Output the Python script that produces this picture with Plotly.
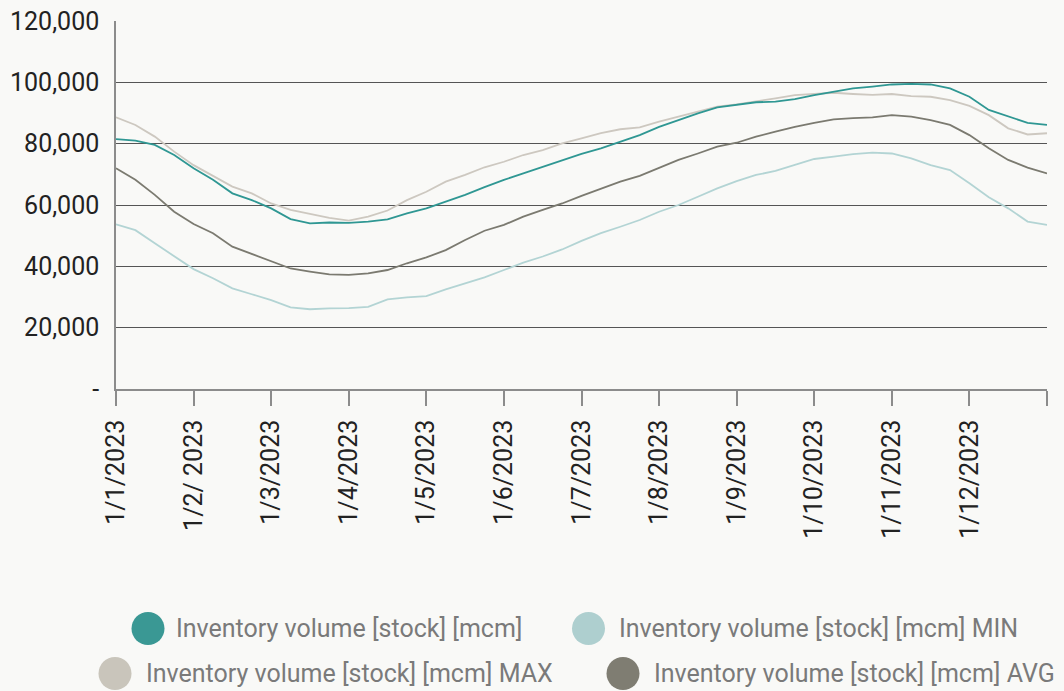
import plotly.graph_objects as go

# Position along the year, in months from 1 January (quarter-month steps)
month_pos = [0, 0.25, 0.5, 0.75, 1, 1.25, 1.5, 1.75, 2, 2.25, 2.5, 2.75, 3,
             3.25, 3.5, 3.75, 4, 4.25, 4.5, 4.75, 5, 5.25, 5.5, 5.75, 6,
             6.25, 6.5, 6.75, 7, 7.25, 7.5, 7.75, 8, 8.25, 8.5, 8.75, 9,
             9.25, 9.5, 9.75, 10, 10.25, 10.5, 10.75, 11, 11.25, 11.5, 11.75, 12]

# Inventory volume (stock), mcm
stock = [81500, 81000, 79600, 76300, 72000, 68200, 63800, 61600, 58900, 55400, 54000, 54300, 54200,
         54600, 55300, 57300, 58900, 61100, 63300, 65800, 68200, 70300, 72500, 74500, 76700,
         78500, 80700, 82800, 85500, 87700, 89900, 91800, 92600, 93500, 93700, 94500, 95800,
         97000, 98000, 98600, 99300, 99500, 99300, 98000, 95300, 91000, 88800, 86800, 86100]

stock_min = [53700, 51800, 47500, 43200, 39100, 36100, 32800, 30900, 29000, 26600, 26000, 26300, 26400,
             26800, 29200, 29900, 30300, 32500, 34500, 36400, 38800, 41200, 43200, 45500, 48300,
             50800, 52900, 55100, 57800, 60000, 62700, 65400, 67800, 69800, 71100, 73000, 75000,
             75800, 76600, 77100, 76800, 75200, 73000, 71400, 67100, 62500, 58900, 54600, 53500]

stock_max = [88600, 86100, 82300, 77400, 73000, 69500, 66000, 63800, 60500, 58400, 57100, 55800, 54900,
             56200, 58200, 61600, 64300, 67600, 69800, 72300, 74100, 76300, 77900, 80100, 81700,
             83400, 84700, 85300, 87200, 88800, 90400, 92100, 92800, 93700, 94800, 95800, 96100,
             96600, 96200, 95900, 96200, 95500, 95300, 94200, 92300, 89300, 85000, 83000, 83400]

stock_avg = [72000, 68200, 63300, 57800, 53800, 50800, 46400, 44000, 41800, 39300, 38300, 37400, 37200,
             37700, 38800, 41000, 42900, 45300, 48600, 51600, 53500, 56200, 58400, 60500, 63000,
             65400, 67600, 69500, 72000, 74700, 76800, 79000, 80300, 82300, 83900, 85500, 86800,
             87900, 88300, 88600, 89300, 88800, 87700, 86100, 82800, 78500, 74700, 72200, 70300]

month_ticks = [0, 1, 2, 3, 4, 5, 6, 7, 8, 9, 10, 11, 12]
month_labels = ["1/1/2023", "1/2/ 2023", "1/3/2023", "1/4/2023", "1/5/2023", "1/6/2023",
                "1/7/2023", "1/8/2023", "1/9/2023", "1/10/2023", "1/11/2023", "1/12/2023", ""]

y_ticks = [0, 20000, 40000, 60000, 80000, 100000, 120000]
y_labels = ["-", "20,000", "40,000", "60,000", "80,000", "100,000", "120,000"]

series_names = ["Inventory volume [stock] [mcm]",
                "Inventory volume [stock] [mcm] MIN",
                "Inventory volume [stock] [mcm] MAX",
                "Inventory volume [stock] [mcm] AVG"]

W, H = 1064, 691
L, R, T, B = 116, 17, 21, 302
BG = "#f9f9f7"
FONT = "Roboto"

line_colors = {"stock": "#2f9793", "min": "#b3d4d4", "max": "#cdc8c0", "avg": "#7b7a70"}
dot_colors = {"stock": "#3a9894", "min": "#aecfcf", "max": "#c9c5bb", "avg": "#7f7d72"}

fig = go.Figure()
for key, vals in [("min", stock_min), ("max", stock_max), ("avg", stock_avg), ("stock", stock)]:
    fig.add_trace(go.Scatter(x=month_pos, y=vals, mode="lines",
                             line=dict(color=line_colors[key], width=1.8),
                             showlegend=False, hoverinfo="skip"))

# Legend drawn as large dots with labels below the plot
plot_w = W - L - R
plot_h = H - T - B


def px_to_paper(px, py):
    return (px - L) / plot_w, (H - B - py) / plot_h


legend_items = [
    ("stock", series_names[0], 148, 628.5, 174),
    ("min", series_names[1], 588.5, 628.5, 617),
    ("max", series_names[2], 115, 673.5, 144),
    ("avg", series_names[3], 623, 673.5, 652),
]
shapes = []
annotations = []
for key, name, cx, cy, tx in legend_items:
    xp, yp = px_to_paper(cx, cy)
    shapes.append(dict(type="circle", xref="paper", yref="paper",
                       xsizemode="pixel", ysizemode="pixel",
                       xanchor=xp, yanchor=yp, x0=-16.5, x1=16.5, y0=-16.5, y1=16.5,
                       fillcolor=dot_colors[key], line=dict(width=0)))
    txp, _ = px_to_paper(tx, cy)
    annotations.append(dict(text=name, xref="paper", yref="paper", x=txp, y=yp,
                            xanchor="left", yanchor="middle", showarrow=False,
                            font=dict(family=FONT, size=25, color="#7a7a7a")))

fig.update_layout(
    width=W, height=H, autosize=False,
    margin=dict(l=L, r=R, t=T, b=B, autoexpand=False),
    paper_bgcolor=BG, plot_bgcolor=BG,
    font=dict(family=FONT, size=25, color="#222222"),
    shapes=shapes, annotations=annotations,
    xaxis=dict(range=[0, 12], tickmode="array", tickvals=month_ticks, ticktext=month_labels,
               tickangle=-90, ticks="outside", ticklen=15, tickwidth=1.5, tickcolor="#8c8c8c",
               showline=True, linecolor="#8c8c8c", linewidth=1.5, showgrid=False, zeroline=False,
               automargin=False,
               ticklabelstandoff=4, tickfont=dict(family=FONT, size=25, color="#222222")),
    yaxis=dict(range=[0, 120000], tickmode="array", tickvals=y_ticks, ticktext=y_labels,
               showline=True, linecolor="#8c8c8c", linewidth=1.5, ticks="",
               showgrid=True, gridcolor="#555555", gridwidth=1, zeroline=False,
               automargin=False,
               ticklabelstandoff=10, tickfont=dict(family=FONT, size=25, color="#222222")),
)

fig.write_html("out.html", config={"displayModeBar": False})
